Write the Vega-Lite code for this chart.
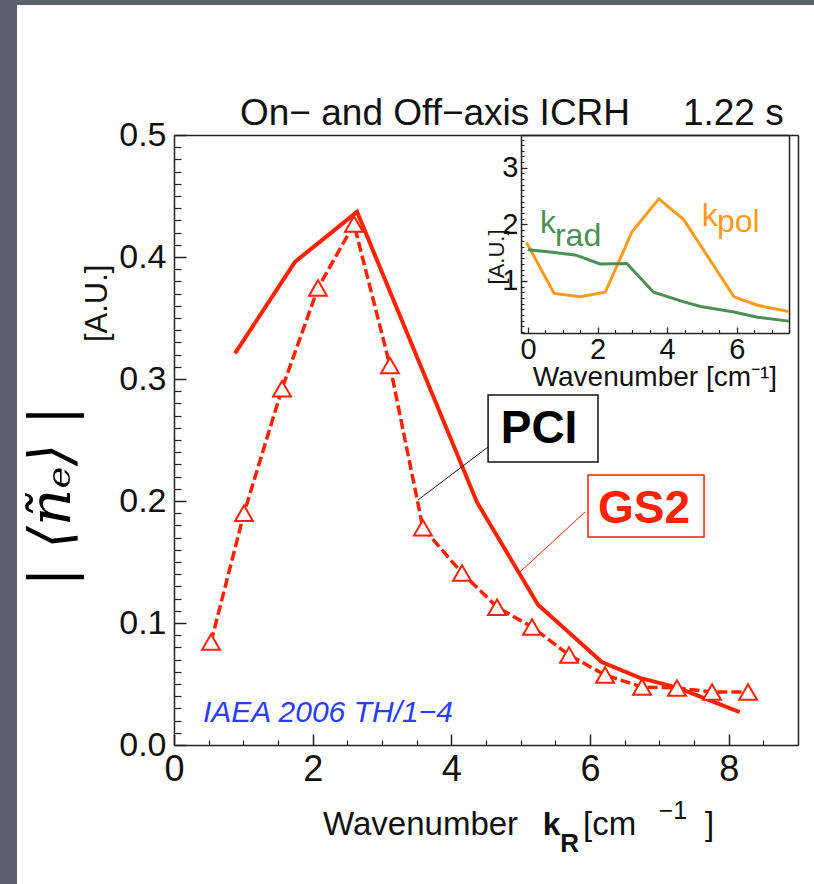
{
  "$schema": "https://vega.github.io/schema/vega-lite/v6.json",
  "width": 797,
  "height": 879,
  "autosize": {"type": "none"},
  "padding": {"left": 17, "top": 5, "right": 0, "bottom": 0},
  "background": "#5b606c",
  "config": {
    "view": {"fill": "white", "stroke": null},
    "axis": {"grid": false, "labelFont": "Liberation Sans", "labelColor": "#111111", "domainColor": "#222222", "tickColor": "#222222", "labelFlush": false, "labelOverlap": false, "title": null},
    "text": {"font": "Liberation Sans"}
  },
  "datasets": {
    "gs2": [
      {"x": 0.88, "y": 0.321}, {"x": 1.745, "y": 0.396}, {"x": 2.64, "y": 0.437}, {"x": 4.37, "y": 0.199},
      {"x": 5.25, "y": 0.115}, {"x": 6.17, "y": 0.068}, {"x": 6.72, "y": 0.055}, {"x": 7.26, "y": 0.047}, {"x": 8.16, "y": 0.027}
    ],
    "pci": [
      {"x": 0.534, "y": 0.0844}, {"x": 1.01, "y": 0.19}, {"x": 1.558, "y": 0.292}, {"x": 2.077, "y": 0.3746},
      {"x": 2.596, "y": 0.427}, {"x": 3.115, "y": 0.311}, {"x": 3.59, "y": 0.178}, {"x": 4.154, "y": 0.141},
      {"x": 4.659, "y": 0.113}, {"x": 5.164, "y": 0.0967}, {"x": 5.697, "y": 0.0738}, {"x": 6.217, "y": 0.0574},
      {"x": 6.75, "y": 0.0475}, {"x": 7.255, "y": 0.0467}, {"x": 7.76, "y": 0.0434}, {"x": 8.28, "y": 0.0434}
    ],
    "kpol": [
      {"x": -0.04, "y": 1.68}, {"x": 0.75, "y": 0.78}, {"x": 1.5, "y": 0.72}, {"x": 2.22, "y": 0.8},
      {"x": 2.99, "y": 1.87}, {"x": 3.76, "y": 2.45}, {"x": 4.48, "y": 2.08}, {"x": 5.92, "y": 0.72},
      {"x": 6.59, "y": 0.57}, {"x": 7.49, "y": 0.46}
    ],
    "krad": [
      {"x": 0.0, "y": 1.55}, {"x": 0.63, "y": 1.51}, {"x": 1.36, "y": 1.46}, {"x": 2.07, "y": 1.3},
      {"x": 2.84, "y": 1.31}, {"x": 3.61, "y": 0.8}, {"x": 4.48, "y": 0.63}, {"x": 4.96, "y": 0.55},
      {"x": 5.92, "y": 0.45}, {"x": 6.59, "y": 0.36}, {"x": 7.49, "y": 0.29}
    ],
    "pciLink": [{"x": 4.53, "y": 0.2443, "x2": 3.519, "y2": 0.2008}],
    "gs2Link": [{"x": 5.928, "y": 0.191, "x2": 4.99, "y2": 0.1418}],
    "pciBox": [{"x": 4.53, "y": 0.2869, "x2": 6.115, "y2": 0.232}],
    "gs2Box": [{"x": 5.971, "y": 0.2213, "x2": 7.645, "y2": 0.1705}],
    "pciText": [{"x": 5.265, "y": 0.2475, "t": "PCI"}],
    "gs2Text": [{"x": 6.78, "y": 0.1818, "t": "GS2"}],
    "titleText": [{"x": 0.952, "y": 0.508, "t": "On− and Off−axis ICRH"}, {"x": 7.34, "y": 0.508, "t": "1.22 s"}],
    "iaeaText": [{"x": 0.418, "y": 0.019, "t": "IAEA 2006 TH/1−4"}],
    "xTitle": [{"x": 2.15, "y": -0.0738, "t": "Wavenumber"}, {"x": 5.9, "y": -0.0738, "t": "[cm"}, {"x": 7.66, "y": -0.0738, "t": "]"}],
    "xTitleSup": [{"x": 6.99, "y": -0.0605, "t": "−1"}],
    "xTitleK": [{"x": 5.32, "y": -0.0738, "t": "k"}],
    "xTitleR": [{"x": 5.57, "y": -0.088, "t": "R"}],
    "yTitleSym": [{"x": -1.75, "y": 0.204, "t": "| ⟨ñₑ⟩ |"}],
    "yTitleAU": [{"x": -1.1, "y": 0.362, "t": "[A.U.]"}],
    "insK": [{"x": 0.345, "y": 1.85, "t": "k", "c": "rad"}, {"x": 4.996, "y": 1.97, "t": "k", "c": "pol"}],
    "insSub": [{"x": 0.775, "y": 1.62, "t": "rad", "c": "rad"}, {"x": 5.43, "y": 1.87, "t": "pol", "c": "pol"}],
    "insXTitle": [{"x": 3.646, "y": -0.86, "t": "Wavenumber [cm⁻¹]"}],
    "insYTitle": [{"x": -0.89, "y": 1.425, "t": "[A.U.]"}]
  },
  "layer": [
    {
      "layer": [
        {
          "data": {"name": "gs2"},
          "mark": {"type": "line", "color": "#ff2200", "strokeWidth": 4},
          "encoding": {
            "x": {"field": "x", "type": "quantitative", "scale": {"domain": [0, 9], "range": [157, 781], "nice": false, "zero": false},
                  "axis": {"orient": "bottom", "offset": -139, "values": [0, 2, 4, 6, 8], "ticks": false, "domain": true, "domainWidth": 1.5, "labels": true, "labelFontSize": 36, "labelPadding": 7, "title": null}},
            "y": {"field": "y", "type": "quantitative", "scale": {"domain": [0, 0.5], "range": [740, 130], "nice": false, "zero": false},
                  "axis": {"orient": "left", "offset": -157, "values": [0, 0.1, 0.2, 0.3, 0.4, 0.5], "format": ".1f", "ticks": false, "domain": true, "domainWidth": 1.5, "labels": true, "labelFontSize": 34, "labelPadding": 8, "title": null}}
          }
        },
        {
          "data": {"name": "pci"},
          "mark": {"type": "line", "color": "#ff2200", "strokeWidth": 3.5, "strokeDash": [10, 4]},
          "encoding": {
            "x": {"field": "x", "type": "quantitative", "scale": {"domain": [0, 9], "range": [157, 781], "nice": false, "zero": false},
                  "axis": {"orient": "bottom", "offset": -139, "values": [0, 2, 4, 6, 8], "ticks": true, "tickSize": -11, "tickWidth": 1.5, "domain": false, "labels": false, "title": null}},
            "y": {"field": "y", "type": "quantitative", "scale": {"domain": [0, 0.5], "range": [740, 130], "nice": false, "zero": false},
                  "axis": {"orient": "left", "offset": -157, "values": [0, 0.1, 0.2, 0.3, 0.4, 0.5], "ticks": true, "tickSize": -12, "tickWidth": 1.5, "domain": false, "labels": false, "title": null}}
          }
        },
        {
          "data": {"name": "pci"},
          "mark": {"type": "point", "shape": "triangle-up", "size": 320, "filled": true, "fill": "white", "fillOpacity": 1, "stroke": "#ff2200", "strokeWidth": 2, "opacity": 1},
          "encoding": {
            "x": {"field": "x", "type": "quantitative", "scale": {"domain": [0, 9], "range": [157, 781], "nice": false, "zero": false},
                  "axis": {"orient": "bottom", "offset": -139, "values": [0.5, 1, 1.5, 2.5, 3, 3.5, 4.5, 5, 5.5, 6.5, 7, 7.5, 8.5], "ticks": true, "tickSize": -5, "tickWidth": 1.2, "domain": false, "labels": false, "title": null}},
            "y": {"field": "y", "type": "quantitative", "scale": {"domain": [0, 0.5], "range": [740, 130], "nice": false, "zero": false},
                  "axis": {"orient": "left", "offset": -157, "values": [0.01,0.02,0.03,0.04,0.05,0.06,0.07,0.08,0.09,0.11,0.12,0.13,0.14,0.15,0.16,0.17,0.18,0.19,0.21,0.22,0.23,0.24,0.25,0.26,0.27,0.28,0.29,0.31,0.32,0.33,0.34,0.35,0.36,0.37,0.38,0.39,0.41,0.42,0.43,0.44,0.45,0.46,0.47,0.48,0.49], "ticks": true, "tickSize": -7, "tickWidth": 1.2, "domain": false, "labels": false, "title": null}}
          }
        },
        {
          "data": {"name": "pciLink"},
          "mark": {"type": "rule", "color": "#111111", "strokeWidth": 1},
          "encoding": {
            "x": {"field": "x", "type": "quantitative", "scale": {"domain": [0, 9], "range": [157, 781], "nice": false, "zero": false},
                  "axis": {"orient": "top", "offset": -130, "ticks": false, "domain": true, "domainWidth": 1.5, "labels": false, "title": null}},
            "y": {"field": "y", "type": "quantitative", "scale": {"domain": [0, 0.5], "range": [740, 130], "nice": false, "zero": false},
                  "axis": {"orient": "right", "offset": -16, "ticks": false, "domain": true, "domainWidth": 1.5, "labels": false, "title": null}},
            "x2": {"field": "x2"},
            "y2": {"field": "y2"}
          }
        },
        {
          "data": {"name": "gs2Link"},
          "mark": {"type": "rule", "color": "#ff2200", "strokeWidth": 1},
          "encoding": {
            "x": {"field": "x", "type": "quantitative", "scale": {"domain": [0, 9], "range": [157, 781], "nice": false, "zero": false}, "axis": null},
            "y": {"field": "y", "type": "quantitative", "scale": {"domain": [0, 0.5], "range": [740, 130], "nice": false, "zero": false}, "axis": null},
            "x2": {"field": "x2"},
            "y2": {"field": "y2"}
          }
        },
        {
          "data": {"name": "pciBox"},
          "mark": {"type": "rect", "fill": "white", "stroke": "#111111", "strokeWidth": 1.5},
          "encoding": {
            "x": {"field": "x", "type": "quantitative", "scale": {"domain": [0, 9], "range": [157, 781], "nice": false, "zero": false}, "axis": null},
            "y": {"field": "y", "type": "quantitative", "scale": {"domain": [0, 0.5], "range": [740, 130], "nice": false, "zero": false}, "axis": null},
            "x2": {"field": "x2"},
            "y2": {"field": "y2"}
          }
        },
        {
          "data": {"name": "gs2Box"},
          "mark": {"type": "rect", "fill": "white", "stroke": "#ff2200", "strokeWidth": 1.5},
          "encoding": {
            "x": {"field": "x", "type": "quantitative", "scale": {"domain": [0, 9], "range": [157, 781], "nice": false, "zero": false}, "axis": null},
            "y": {"field": "y", "type": "quantitative", "scale": {"domain": [0, 0.5], "range": [740, 130], "nice": false, "zero": false}, "axis": null},
            "x2": {"field": "x2"},
            "y2": {"field": "y2"}
          }
        },
        {
          "data": {"name": "pciText"},
          "mark": {"type": "text", "font": "Liberation Sans", "fontWeight": "bold", "fontSize": 46, "color": "#000000", "align": "center", "baseline": "alphabetic"},
          "encoding": {
            "x": {"field": "x", "type": "quantitative", "scale": {"domain": [0, 9], "range": [157, 781], "nice": false, "zero": false}, "axis": null},
            "y": {"field": "y", "type": "quantitative", "scale": {"domain": [0, 0.5], "range": [740, 130], "nice": false, "zero": false}, "axis": null},
            "text": {"field": "t"}
          }
        },
        {
          "data": {"name": "gs2Text"},
          "mark": {"type": "text", "font": "Liberation Sans", "fontWeight": "bold", "fontSize": 46, "color": "#ff2200", "align": "center", "baseline": "alphabetic"},
          "encoding": {
            "x": {"field": "x", "type": "quantitative", "scale": {"domain": [0, 9], "range": [157, 781], "nice": false, "zero": false}, "axis": null},
            "y": {"field": "y", "type": "quantitative", "scale": {"domain": [0, 0.5], "range": [740, 130], "nice": false, "zero": false}, "axis": null},
            "text": {"field": "t"}
          }
        },
        {
          "data": {"name": "titleText"},
          "mark": {"type": "text", "font": "Liberation Sans", "fontSize": 37, "color": "#111111", "align": "left", "baseline": "alphabetic"},
          "encoding": {
            "x": {"field": "x", "type": "quantitative", "scale": {"domain": [0, 9], "range": [157, 781], "nice": false, "zero": false}, "axis": null},
            "y": {"field": "y", "type": "quantitative", "scale": {"domain": [0, 0.5], "range": [740, 130], "nice": false, "zero": false}, "axis": null},
            "text": {"field": "t"}
          }
        },
        {
          "data": {"name": "iaeaText"},
          "mark": {"type": "text", "font": "Liberation Sans", "fontStyle": "italic", "fontSize": 30, "color": "#2a3cff", "align": "left", "baseline": "alphabetic"},
          "encoding": {
            "x": {"field": "x", "type": "quantitative", "scale": {"domain": [0, 9], "range": [157, 781], "nice": false, "zero": false}, "axis": null},
            "y": {"field": "y", "type": "quantitative", "scale": {"domain": [0, 0.5], "range": [740, 130], "nice": false, "zero": false}, "axis": null},
            "text": {"field": "t"}
          }
        },
        {
          "data": {"name": "xTitle"},
          "mark": {"type": "text", "font": "Liberation Sans", "fontSize": 33, "color": "#111111", "align": "left", "baseline": "alphabetic"},
          "encoding": {
            "x": {"field": "x", "type": "quantitative", "scale": {"domain": [0, 9], "range": [157, 781], "nice": false, "zero": false}, "axis": null},
            "y": {"field": "y", "type": "quantitative", "scale": {"domain": [0, 0.5], "range": [740, 130], "nice": false, "zero": false}, "axis": null},
            "text": {"field": "t"}
          }
        },
        {
          "data": {"name": "xTitleSup"},
          "mark": {"type": "text", "font": "Liberation Sans", "fontSize": 25, "color": "#111111", "align": "left", "baseline": "alphabetic"},
          "encoding": {
            "x": {"field": "x", "type": "quantitative", "scale": {"domain": [0, 9], "range": [157, 781], "nice": false, "zero": false}, "axis": null},
            "y": {"field": "y", "type": "quantitative", "scale": {"domain": [0, 0.5], "range": [740, 130], "nice": false, "zero": false}, "axis": null},
            "text": {"field": "t"}
          }
        },
        {
          "data": {"name": "xTitleK"},
          "mark": {"type": "text", "font": "Liberation Sans", "fontWeight": "bold", "fontSize": 32, "color": "#111111", "align": "left", "baseline": "alphabetic"},
          "encoding": {
            "x": {"field": "x", "type": "quantitative", "scale": {"domain": [0, 9], "range": [157, 781], "nice": false, "zero": false}, "axis": null},
            "y": {"field": "y", "type": "quantitative", "scale": {"domain": [0, 0.5], "range": [740, 130], "nice": false, "zero": false}, "axis": null},
            "text": {"field": "t"}
          }
        },
        {
          "data": {"name": "xTitleR"},
          "mark": {"type": "text", "font": "Liberation Sans", "fontWeight": "bold", "fontSize": 26, "color": "#111111", "align": "left", "baseline": "alphabetic"},
          "encoding": {
            "x": {"field": "x", "type": "quantitative", "scale": {"domain": [0, 9], "range": [157, 781], "nice": false, "zero": false}, "axis": null},
            "y": {"field": "y", "type": "quantitative", "scale": {"domain": [0, 0.5], "range": [740, 130], "nice": false, "zero": false}, "axis": null},
            "text": {"field": "t"}
          }
        },
        {
          "data": {"name": "yTitleSym"},
          "mark": {"type": "text", "font": "DejaVu Serif", "fontStyle": "italic", "fontSize": 58, "color": "#000000", "align": "center", "baseline": "middle", "angle": 270},
          "encoding": {
            "x": {"field": "x", "type": "quantitative", "scale": {"domain": [0, 9], "range": [157, 781], "nice": false, "zero": false}, "axis": null},
            "y": {"field": "y", "type": "quantitative", "scale": {"domain": [0, 0.5], "range": [740, 130], "nice": false, "zero": false}, "axis": null},
            "text": {"field": "t"}
          }
        },
        {
          "data": {"name": "yTitleAU"},
          "mark": {"type": "text", "font": "Liberation Sans", "fontSize": 31, "color": "#111111", "align": "center", "baseline": "middle", "angle": 270},
          "encoding": {
            "x": {"field": "x", "type": "quantitative", "scale": {"domain": [0, 9], "range": [157, 781], "nice": false, "zero": false}, "axis": null},
            "y": {"field": "y", "type": "quantitative", "scale": {"domain": [0, 0.5], "range": [740, 130], "nice": false, "zero": false}, "axis": null},
            "text": {"field": "t"}
          }
        }
      ],
      "resolve": {"axis": {"x": "independent", "y": "independent"}}
    },
    {
      "layer": [
        {
          "data": {"name": "kpol"},
          "mark": {"type": "line", "color": "#ff9a1a", "strokeWidth": 3},
          "encoding": {
            "x": {"field": "x", "type": "quantitative", "scale": {"domain": [-0.2, 7.5], "range": [504, 772], "nice": false, "zero": false},
                  "axis": {"orient": "bottom", "offset": -551, "values": [0, 2, 4, 6], "ticks": false, "domain": true, "domainWidth": 1.5, "labels": true, "labelFontSize": 29, "labelPadding": 2, "title": null}},
            "y": {"field": "y", "type": "quantitative", "scale": {"domain": [0.08, 3.58], "range": [328, 130], "nice": false, "zero": false},
                  "axis": {"orient": "left", "offset": -504, "values": [1, 2, 3], "ticks": false, "domain": true, "domainWidth": 1.5, "labels": true, "labelFontSize": 29, "labelPadding": 3, "title": null}}
          }
        },
        {
          "data": {"name": "krad"},
          "mark": {"type": "line", "color": "#4c8f55", "strokeWidth": 3},
          "encoding": {
            "x": {"field": "x", "type": "quantitative", "scale": {"domain": [-0.2, 7.5], "range": [504, 772], "nice": false, "zero": false},
                  "axis": {"orient": "bottom", "offset": -551, "values": [0, 2, 4, 6], "ticks": true, "tickSize": -6, "tickWidth": 1.3, "domain": false, "labels": false, "title": null}},
            "y": {"field": "y", "type": "quantitative", "scale": {"domain": [0.08, 3.58], "range": [328, 130], "nice": false, "zero": false},
                  "axis": {"orient": "left", "offset": -504, "values": [1, 2, 3], "ticks": true, "tickSize": -6, "tickWidth": 1.3, "domain": false, "labels": false, "title": null}}
          }
        },
        {
          "data": {"name": "insK"},
          "mark": {"type": "text", "font": "Liberation Sans", "fontSize": 32, "align": "left", "baseline": "alphabetic"},
          "encoding": {
            "x": {"field": "x", "type": "quantitative", "scale": {"domain": [-0.2, 7.5], "range": [504, 772], "nice": false, "zero": false},
                  "axis": {"orient": "bottom", "offset": -551, "values": [0.5, 1, 1.5, 2.5, 3, 3.5, 4.5, 5, 5.5, 6.5, 7, 7.5], "ticks": true, "tickSize": -3.5, "tickWidth": 1.1, "domain": false, "labels": false, "title": null}},
            "y": {"field": "y", "type": "quantitative", "scale": {"domain": [0.08, 3.58], "range": [328, 130], "nice": false, "zero": false},
                  "axis": {"orient": "left", "offset": -504, "values": [0.1,0.2,0.3,0.4,0.5,0.6,0.7,0.8,0.9,1.1,1.2,1.3,1.4,1.5,1.6,1.7,1.8,1.9,2.1,2.2,2.3,2.4,2.5,2.6,2.7,2.8,2.9,3.1,3.2,3.3,3.4,3.5], "ticks": true, "tickSize": -3, "tickWidth": 1.1, "domain": false, "labels": false, "title": null}},
            "text": {"field": "t"},
            "color": {"field": "c", "type": "nominal", "scale": {"domain": ["rad", "pol"], "range": ["#4c8f55", "#ff9a1a"]}, "legend": null}
          }
        },
        {
          "data": {"name": "insSub"},
          "mark": {"type": "text", "font": "Liberation Sans", "fontSize": 32, "align": "left", "baseline": "alphabetic"},
          "encoding": {
            "x": {"field": "x", "type": "quantitative", "scale": {"domain": [-0.2, 7.5], "range": [504, 772], "nice": false, "zero": false},
                  "axis": {"orient": "top", "offset": -130, "ticks": false, "domain": true, "domainWidth": 1.5, "labels": false, "title": null}},
            "y": {"field": "y", "type": "quantitative", "scale": {"domain": [0.08, 3.58], "range": [328, 130], "nice": false, "zero": false},
                  "axis": {"orient": "right", "offset": -25, "ticks": false, "domain": true, "domainWidth": 1.5, "labels": false, "title": null}},
            "text": {"field": "t"},
            "color": {"field": "c", "type": "nominal", "scale": {"domain": ["rad", "pol"], "range": ["#4c8f55", "#ff9a1a"]}, "legend": null}
          }
        },
        {
          "data": {"name": "insXTitle"},
          "mark": {"type": "text", "font": "Liberation Sans", "fontSize": 28, "color": "#111111", "align": "center", "baseline": "alphabetic"},
          "encoding": {
            "x": {"field": "x", "type": "quantitative", "scale": {"domain": [-0.2, 7.5], "range": [504, 772], "nice": false, "zero": false}, "axis": null},
            "y": {"field": "y", "type": "quantitative", "scale": {"domain": [0.08, 3.58], "range": [328, 130], "nice": false, "zero": false}, "axis": null},
            "text": {"field": "t"}
          }
        },
        {
          "data": {"name": "insYTitle"},
          "mark": {"type": "text", "font": "Liberation Sans", "fontSize": 22, "color": "#111111", "align": "center", "baseline": "middle", "angle": 270},
          "encoding": {
            "x": {"field": "x", "type": "quantitative", "scale": {"domain": [-0.2, 7.5], "range": [504, 772], "nice": false, "zero": false}, "axis": null},
            "y": {"field": "y", "type": "quantitative", "scale": {"domain": [0.08, 3.58], "range": [328, 130], "nice": false, "zero": false}, "axis": null},
            "text": {"field": "t"}
          }
        }
      ],
      "resolve": {"axis": {"x": "independent", "y": "independent"}}
    }
  ],
  "resolve": {"scale": {"x": "independent", "y": "independent", "color": "independent"}, "axis": {"x": "independent", "y": "independent"}}
}
